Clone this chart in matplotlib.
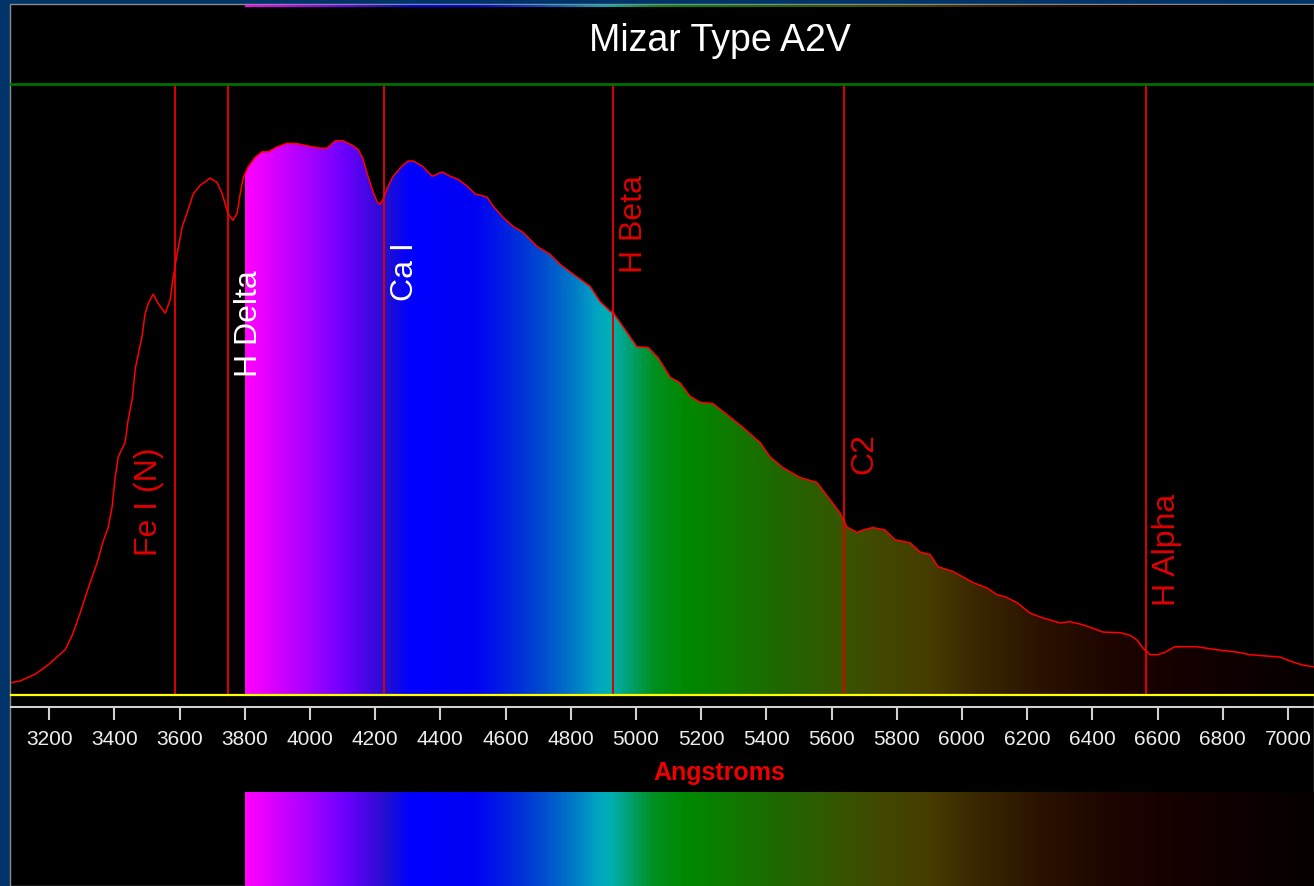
import numpy as np
import matplotlib
matplotlib.use("Agg")
import matplotlib.pyplot as plt
from matplotlib.colors import LinearSegmentedColormap, Normalize
from matplotlib.patches import Rectangle, PathPatch
from matplotlib.path import Path
from matplotlib.transforms import offset_copy

plt.rcParams['font.family'] = ['Liberation Sans', 'DejaVu Sans']

# ---- data -------------------------------------------------------------
title = "Mizar Type A2V"

wavelength = [
    3083, 3111, 3157, 3194, 3249, 3271, 3295, 3320, 3347, 3366, 3381, 3393,
    3402, 3412, 3433, 3442, 3455, 3464, 3473, 3485, 3494, 3504, 3519, 3534,
    3556, 3571, 3580, 3593, 3608, 3623, 3642, 3663, 3694, 3715, 3731, 3749,
    3764, 3777, 3786, 3795, 3810, 3832, 3853, 3872, 3899, 3930, 3964, 4000,
    4031, 4053, 4077, 4102, 4129, 4148, 4163, 4178, 4194, 4206, 4215, 4224,
    4240, 4255, 4283, 4301, 4316, 4344, 4375, 4405, 4430, 4454, 4482, 4507,
    4543, 4562, 4592, 4623, 4654, 4697, 4737, 4767, 4807, 4859, 4890, 4921,
    4930, 4960, 5003, 5037, 5068, 5105, 5135, 5166, 5197, 5236, 5279, 5328,
    5381, 5411, 5451, 5503, 5555, 5595, 5626, 5647, 5678, 5697, 5727, 5764,
    5795, 5841, 5871, 5902, 5927, 5973, 6034, 6077, 6108, 6132, 6169, 6209,
    6249, 6301, 6331, 6371, 6433, 6485, 6515, 6537, 6555, 6577, 6601, 6623,
    6653, 6721, 6782, 6847, 6883, 6976, 7015, 7046, 7080,
]
intensity = [
    0.020, 0.023, 0.034, 0.048, 0.074, 0.098, 0.134, 0.175, 0.216, 0.252, 0.274, 0.307,
    0.354, 0.390, 0.413, 0.449, 0.485, 0.533, 0.557, 0.587, 0.623, 0.641, 0.656, 0.641,
    0.625, 0.646, 0.682, 0.723, 0.766, 0.789, 0.820, 0.834, 0.846, 0.839, 0.820, 0.787,
    0.777, 0.789, 0.820, 0.846, 0.864, 0.880, 0.889, 0.889, 0.897, 0.903, 0.902, 0.898,
    0.895, 0.895, 0.907, 0.907, 0.900, 0.893, 0.877, 0.849, 0.823, 0.807, 0.803, 0.811,
    0.833, 0.849, 0.866, 0.874, 0.874, 0.866, 0.849, 0.856, 0.849, 0.844, 0.833, 0.820,
    0.815, 0.800, 0.782, 0.767, 0.757, 0.734, 0.721, 0.705, 0.689, 0.669, 0.644, 0.628,
    0.626, 0.603, 0.570, 0.569, 0.552, 0.520, 0.511, 0.489, 0.479, 0.477, 0.459, 0.438,
    0.413, 0.390, 0.372, 0.356, 0.348, 0.320, 0.298, 0.275, 0.266, 0.270, 0.274, 0.270,
    0.254, 0.249, 0.234, 0.230, 0.210, 0.202, 0.184, 0.175, 0.164, 0.161, 0.151, 0.134,
    0.126, 0.118, 0.120, 0.115, 0.103, 0.102, 0.098, 0.090, 0.077, 0.066, 0.066, 0.070,
    0.079, 0.079, 0.074, 0.070, 0.066, 0.062, 0.054, 0.049, 0.046,
]

line_names = ["Fe I (N)", "H Delta", "Ca I", "H Beta", "C2", "H Alpha"]
line_wavelengths = [3585, 3750, 4226, 4930, 5637, 6564]
label_levels = [0.226, 0.519, 0.643, 0.689, 0.360, 0.144]
label_colors = ["#e00000", "#ffffff", "#ffffff", "#e00000", "#e00000", "#e00000"]
label_side = [-1, 1, 1, 1, 1, 1]

tick_values = list(range(3200, 7001, 200))
x_label = "Angstroms"

# colour scale of the visible band
band_start, band_end = 3800, 7080
band_stops = [3800, 3900, 4000, 4100, 4180, 4230, 4300, 4500, 4600, 4700,
              4800, 4880, 4920, 4980, 5050, 5150, 5300, 5450, 5600, 5750,
              5900, 6050, 6250, 6450, 6650, 6900, 7080]
band_colors = ["#ff00ff", "#d000ff", "#a000ff", "#6c00ff", "#4008e0", "#2010d0",
               "#0000ff", "#0000f4", "#0022e0", "#0048d0", "#0078c8", "#00a6c0",
               "#00b0b0", "#00a070", "#009020", "#008800", "#107800", "#206600",
               "#335800", "#424800", "#463c00", "#3a2600", "#2a1200", "#1e0500",
               "#160000", "#0c0000", "#060000"]

# ---- figure -----------------------------------------------------------
W, H = 1314, 887
fig = plt.figure(figsize=(W / 100, H / 100), dpi=100, facecolor="#003469")

# window frame
bg = fig.add_axes([0, 0, 1, 1], zorder=0)
bg.set_xlim(0, W)
bg.set_ylim(H, 0)
bg.axis("off")
bg.add_patch(Rectangle((10, 5), W - 10, H - 5, facecolor="black",
                       edgecolor="#8a8a8a", lw=1.0))

cmap = LinearSegmentedColormap.from_list(
    "band",
    [((s - band_start) / (band_end - band_start), c) for s, c in zip(band_stops, band_colors)],
)
norm = Normalize(band_start, band_end)
band_img = np.linspace(band_start, band_end, 1200)[None, :]

x_left, x_right = 3083, 7080
ax_left = 11 / W
ax_width = (W - 11) / W


def band_axes(top_px, bottom_px):
    a = fig.add_axes([ax_left, 1 - bottom_px / H, ax_width, (bottom_px - top_px) / H], zorder=1)
    a.set_xlim(x_left, x_right)
    a.set_ylim(0, 1)
    a.axis("off")
    a.imshow(band_img, cmap=cmap, norm=norm, aspect="auto",
             extent=(band_start, band_end, 0, 1), interpolation="bilinear")
    return a


band_axes(6, 8)        # thin strip at the very top
band_axes(793, 887)    # reference band at the bottom

# main spectrum panel
ax = fig.add_axes([ax_left, 1 - 696 / H, ax_width, 611 / H], zorder=2)
ax.set_facecolor("none")
ax.set_xlim(x_left, x_right)
ax.set_ylim(0, 1)

im = ax.imshow(band_img, cmap=cmap, norm=norm, aspect="auto",
               extent=(band_start, band_end, 0, 1), interpolation="bilinear", zorder=1)
verts = [(wavelength[0], 0)] + list(zip(wavelength, intensity)) + [(wavelength[-1], 0), (wavelength[0], 0)]
codes = [Path.MOVETO] + [Path.LINETO] * (len(verts) - 2) + [Path.CLOSEPOLY]
clip = PathPatch(Path(verts, codes), transform=ax.transData, facecolor="none", edgecolor="none")
ax.add_patch(clip)
im.set_clip_path(clip)

ax.plot(wavelength, intensity, color="#ff0000", lw=1.1, zorder=4)

for name, wl, lvl, col, side in zip(line_names, line_wavelengths, label_levels, label_colors, label_side):
    ax.axvline(wl, color="#dd0000", lw=1.4, zorder=3)
    dx = 29 if side > 0 else -18
    tr = offset_copy(ax.transData, fig=fig, x=dx, y=2, units="dots")
    ax.text(wl, lvl, name, transform=tr, rotation=90, rotation_mode="anchor",
            ha="left", va="baseline", color=col, fontsize=23, zorder=5)

# green top rule and yellow baseline
ax.axhline(1, color="#007000", lw=2.0, clip_on=False, zorder=6)
ax.axhline(0, color="#ffff00", lw=1.6, clip_on=False, zorder=6)

for s in ["top", "left", "right"]:
    ax.spines[s].set_visible(False)
ax.spines["bottom"].set_position(("outward", 8.6))
ax.spines["bottom"].set_color("#d0d0d0")
ax.spines["bottom"].set_linewidth(1.5)
ax.set_yticks([])
ax.set_xticks(tick_values)
ax.set_xticklabels([str(t) for t in tick_values])
ax.tick_params(axis="x", direction="out", length=9.5, width=1.5, color="#d0d0d0",
               labelcolor="#eeeeee", labelsize=15, pad=6.5)

fig.text(720 / W, 1 - 41 / H, title, color="white", fontsize=27,
         ha="center", va="center", zorder=10)
fig.text(719 / W, 1 - 773 / H, x_label, color="#ee0000", fontsize=18,
         fontweight="bold", ha="center", va="center", zorder=10)

fig.savefig("out.png", dpi=100, facecolor=fig.get_facecolor())
